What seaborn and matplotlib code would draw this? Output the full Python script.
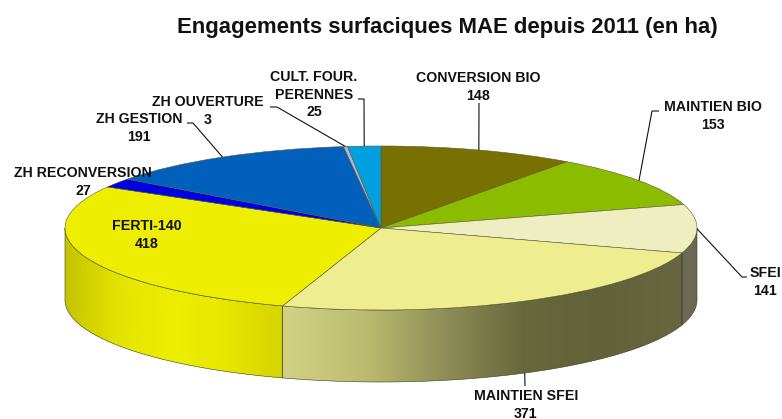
"""
3D style pie: engagements MAE
"""

import numpy as np
import matplotlib

matplotlib.use("Agg")
import matplotlib.pyplot as plt
import seaborn as sns

names = [
    "CONVERSION BIO",
    "MAINTIEN BIO",
    "SFEI",
    "MAINTIEN SFEI",
    "FERTI-140",
    "ZH RECONVERSION",
    "ZH GESTION",
    "ZH OUVERTURE",
    "CULT. FOUR.\nPERENNES",
]
hectares = [148, 153, 141, 371, 418, 27, 191, 3, 25]
colors = [
    "#787000",
    "#8cbc00",
    "#eeeec0",
    "#eeee90",
    "#eeee00",
    "#0000e0",
    "#0060bc",
    "#b4b4e0",
    "#00a0e0",
]
# gradient stops for the visible rim, left to right
rim_stops = {
    2: ["#6c6c56", "#6a6a54"],
    3: ["#d2d284", "#bcbc70", "#8f8f58", "#68683c", "#62623a", "#666640"],
    4: ["#c4c400", "#e4e400", "#eeee00", "#e6e600", "#d4d400"],
}
title = "Engagements surfaciques MAE depuis 2011 (en ha)"

WIDTH, HEIGHT = 782, 419
CX, CY, RX, RY = 381, 228, 316, 82
DEPTH = 72 / RY

sns.set_theme(style="white")
plt.rcParams["font.family"] = ["Liberation Sans", "DejaVu Sans"]

fig = plt.figure(figsize=(WIDTH / 100, HEIGHT / 100), dpi=100)
ax = fig.add_axes([0, 0, 1, 1])

wedges, _ = ax.pie(
    hectares,
    colors=colors,
    startangle=90,
    counterclock=False,
    wedgeprops={"edgecolor": "#5a5a30", "linewidth": 0.4, "zorder": 3},
)

bounds = np.r_[0, np.cumsum(hectares)] / np.sum(hectares) * 2 * np.pi


def rim_xy(t):
    return np.sin(t), np.cos(t)


for i, stops in rim_stops.items():
    t0 = max(bounds[i], np.pi / 2)
    t1 = min(bounds[i + 1], 3 * np.pi / 2)
    t = np.linspace(t0, t1, 120)
    x, y = rim_xy(t)
    xs = np.r_[x, x[::-1]]
    ys = np.r_[y, y[::-1] - DEPTH]
    im = ax.imshow(
        np.linspace(0, 1, 256)[None, :],
        cmap=sns.blend_palette(stops, as_cmap=True),
        extent=(x.min(), x.max(), ys.min(), ys.max()),
        aspect="auto",
        zorder=1,
    )
    outline = ax.fill(xs, ys, facecolor="none", edgecolor="#3c3c18", linewidth=0.4, zorder=2)[0]
    im.set_clip_path(outline)

ax.set_aspect("auto")
ax.set_xlim(-CX / RX, (WIDTH - CX) / RX)
ax.set_ylim((CY - HEIGHT) / RY, CY / RY)
ax.axis("off")


def from_px(px, py):
    return (px - CX) / RX, (CY - py) / RY


def leader(i, *points, drop=0):
    mid = (bounds[i] + bounds[i + 1]) / 2
    x0, y0 = rim_xy(mid)
    px = [from_px(*p) for p in points]
    xs = [x0] + [p[0] for p in px]
    ys = [y0 - drop] + [p[1] for p in px]
    ax.plot(xs, ys, color="#111111", lw=0.8, zorder=4, solid_capstyle="butt")


def label(i, px, py, size=10.2, pitch=17.5):
    # one text per line so the value sits under its name like the original
    lines = names[i].split("\n") + [str(hectares[i])]
    for n, line in enumerate(lines):
        x, y = from_px(px, py + n * pitch)
        ax.text(
            x,
            y,
            line,
            ha="center",
            va="center",
            fontsize=size,
            fontweight="bold",
            color="#111111",
            zorder=5,
        )


leader(0, (479, 103))
leader(1, (652, 111), (659, 111))
leader(2, (742, 277), (747, 277))
leader(3, (525, 386), drop=DEPTH)
leader(6, (193, 123), (187, 123))
leader(7, (277, 107), (270, 107))
leader(8, (364, 99), (358, 99))

label(0, 478, 78)
label(1, 713, 107)
label(2, 765, 273)
label(3, 526, 396)
label(4, 147, 226)
label(5, 83, 173)
label(6, 139, 119)
label(7, 208, 102)
label(8, 314, 77)

ax.text(*from_px(447, 27), title, ha="center", va="center", fontsize=15.9, fontweight="bold", color="#111111")

fig.savefig("out.png", dpi=100)
